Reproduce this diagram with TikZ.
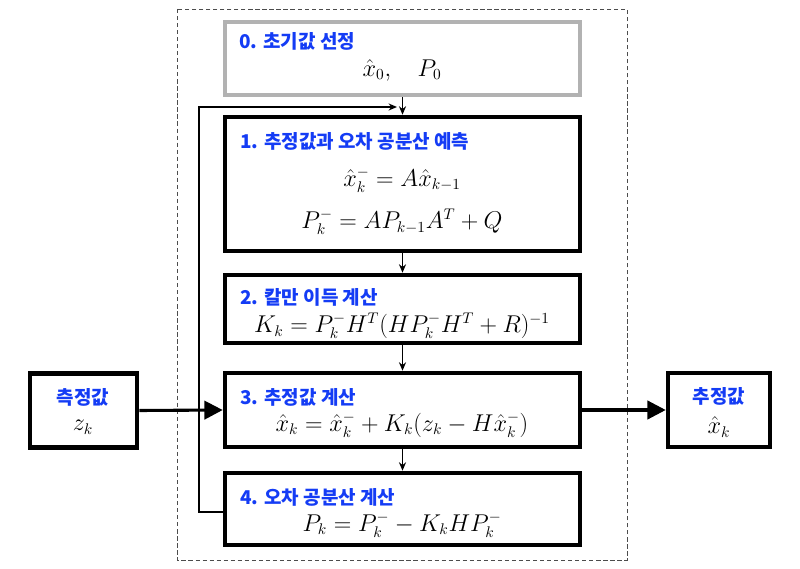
\documentclass[tikz,border=0pt]{standalone}
\usepackage{fontspec}
\usepackage{amsmath}
\usetikzlibrary{arrows.meta,shadows}
\newfontfamily\kr{Noto Sans CJK KR}
\definecolor{stepblue}{RGB}{20,60,245}

\tikzset{
  stepbox/.style={draw=black,line width=3.2pt,fill=white,minimum width=8.875cm,
    drop shadow={shadow xshift=1.2pt,shadow yshift=-1.2pt,opacity=0.25}},
  initbox/.style={stepbox,draw=black!30},
  iobox/.style={stepbox,minimum height=1.85cm},
  steptitle/.style={anchor=west,text=stepblue,font=\kr\bfseries\fontsize{13.5}{15}\selectfont,inner sep=0pt},
  iotitle/.style={text=stepblue,font=\kr\bfseries\fontsize{13.5}{15}\selectfont,inner sep=0pt},
  stepmath/.style={font=\fontsize{16}{19}\selectfont,inner sep=0pt},
  flow/.style={-{Stealth[length=6pt,width=5pt]},line width=1.2pt},
  bigflow/.style={-{Triangle[length=13pt,width=13pt]},line width=2.2pt}
}

\begin{document}
\begin{tikzpicture}[x=0.025cm,y=-0.025cm]
  \useasboundingbox (0,0) rectangle (800,569);
  % dashed frame round the filter loop
  \draw[densely dashed,line width=0.6pt,black!70] (177,9) rectangle (627,560);

  % the five steps
  \node[initbox,minimum height=1.825cm] (init) at (402.5,58.5) {};
  \node[stepbox,minimum height=3.35cm] (predict) at (402.5,184) {};
  \node[stepbox,minimum height=1.7cm] (gain) at (402.5,309) {};
  \node[stepbox,minimum height=1.85cm] (update) at (402.5,410) {};
  \node[stepbox,minimum height=1.8cm] (cov) at (402.5,509) {};

  % measurement in, estimate out
  \node[iobox,minimum width=2.675cm] (meas) at (83.5,410.5) {};
  \node[iobox,minimum width=2.55cm] (est) at (719,410) {};

  % texts
  \node[steptitle] (t0) at (239,41) {0. 초기값 선정};
  \node[stepmath] (m0) at (402,70) {$\hat{x}_0,\quad P_0$};
  \node[steptitle] (t1) at (240,141) {1. 추정값과 오차 공분산 예측};
  \node[stepmath] (m1a) at (402,180) {$\hat{x}_k^- = A\hat{x}_{k-1}$};
  \node[stepmath] (m1b) at (402,222) {$P_k^- = AP_{k-1}A^T + Q$};
  \node[steptitle] (t2) at (240,297) {2. 칼만 이득 계산};
  \node[stepmath] (m2) at (402,326) {$K_k = P_k^- H^T (HP_k^- H^T + R)^{-1}$};
  \node[steptitle] (t3) at (240,397) {3. 추정값 계산};
  \node[stepmath] (m3) at (402,425) {$\hat{x}_k = \hat{x}_k^- + K_k (z_k - H\hat{x}_k^-)$};
  \node[steptitle] (t4) at (240,497) {4. 오차 공분산 계산};
  \node[stepmath] (m4) at (402,525) {$P_k = P_k^- - K_k H P_k^-$};
  \node[iotitle] (tin) at (83,397) {측정값};
  \node[stepmath] (min) at (83,427) {$z_k$};
  \node[iotitle] (tout) at (719,396) {추정값};
  \node[stepmath] (mout) at (719,427) {$\hat{x}_k$};

  % connectors
  \coordinate (loopend) at (397,107);
  \draw[flow] (init.south) -- (predict.north);
  \draw[flow] (predict.south) -- (gain.north);
  \draw[flow] (gain.south) -- (update.north);
  \draw[flow] (update.south) -- (cov.north);
  \draw[flow] (cov.west |- 0,512) -- (199,512) -- (199,107) -- (loopend);
  \draw[bigflow] (meas.east) -- (update.west);
  \draw[bigflow] (update.east) -- (est.west);
\end{tikzpicture}
\end{document}
